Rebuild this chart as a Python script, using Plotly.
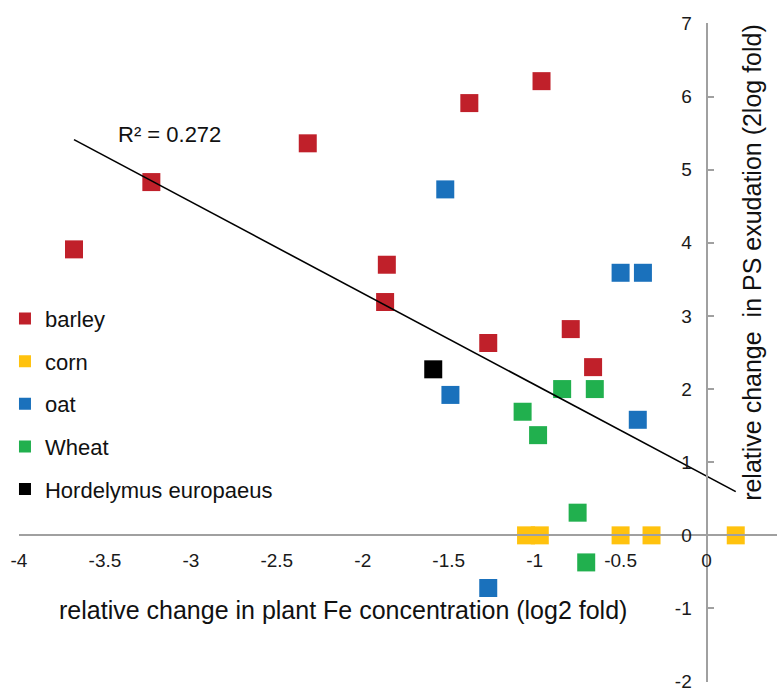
import plotly.graph_objects as go

# Relative change in plant Fe concentration (x, log2 fold) versus
# relative change in phytosiderophore (PS) exudation (y, 2log fold)
barley_x = [-3.68, -3.23, -2.32, -1.38, -0.96, -1.86, -1.87, -1.27, -0.79, -0.66]
barley_y = [3.91, 4.83, 5.36, 5.91, 6.21, 3.70, 3.19, 2.63, 2.82, 2.30]

corn_x = [-1.05, -0.97, -0.50, -0.32, 0.17]
corn_y = [0.0, 0.0, 0.0, 0.0, 0.0]

oat_x = [-1.52, -0.50, -0.37, -1.49, -0.40, -1.27]
oat_y = [4.73, 3.59, 3.59, 1.92, 1.58, -0.72]

wheat_x = [-0.84, -0.65, -1.07, -0.98, -0.75, -0.70]
wheat_y = [2.00, 2.00, 1.69, 1.37, 0.31, -0.37]

hordelymus_x = [-1.59]
hordelymus_y = [2.27]

# Linear trendline over all points (y = slope * x + intercept)
trend_slope = -1.25
trend_intercept = 0.81
r2_label = "R² = 0.272"

x_tick_vals = [-4, -3.5, -3, -2.5, -2, -1.5, -1, -0.5, 0]
x_tick_text = ["-4", "-3.5", "-3", "-2.5", "-2", "-1.5", "-1", "-0.5", "0"]
y_tick_vals = [-2, -1, 0, 1, 2, 3, 4, 5, 6, 7]
y_tick_text = ["-2", "-1", "0", "1", "2", "3", "4", "5", "6", "7"]

FONT = "Liberation Sans, Arial, sans-serif"
AXIS_GREY = "#a0a0a0"
X_RANGE = [-4, 0.41]
Y_RANGE = [-2.005, 7.005]

series = [
    ("barley", barley_x, barley_y, "#C0202A"),
    ("corn", corn_x, corn_y, "#FFC20E"),
    ("oat", oat_x, oat_y, "#1A71BC"),
    ("Wheat", wheat_x, wheat_y, "#21B04E"),
    ("Hordelymus europaeus", hordelymus_x, hordelymus_y, "#000000"),
]

fig = go.Figure()
for name, xs, ys, color in series:
    fig.add_trace(go.Scatter(
        x=xs, y=ys, mode="markers", name=name, legendgroup=name,
        marker=dict(symbol="square", size=18, color=color, line=dict(width=0)),
    ))

all_x = [v for s in series for v in s[1]]
line_x = [min(all_x), max(all_x)]
line_y = [trend_slope * v + trend_intercept for v in line_x]
fig.add_trace(go.Scatter(
    x=line_x, y=line_y, mode="lines",
    line=dict(color="#000000", width=1.6), showlegend=False, hoverinfo="skip",
))

fig.update_layout(
    width=777, height=692,
    margin=dict(l=19, r=0, t=23, b=7),
    paper_bgcolor="white", plot_bgcolor="white",
    font=dict(family=FONT, color="#1a1a1a"),
    showlegend=True,
    legend=dict(
        x=-0.0185, y=0.583, xanchor="left", yanchor="top",
        font=dict(size=22, family=FONT, color="#111111"),
        itemsizing="constant", tracegroupgap=11,
        bgcolor="rgba(0,0,0,0)",
    ),
    xaxis=dict(
        range=X_RANGE, anchor="free", position=(0 - Y_RANGE[0]) / (Y_RANGE[1] - Y_RANGE[0]),
        showgrid=False, zeroline=False, showline=True,
        linecolor=AXIS_GREY, linewidth=2, ticks="",
        tickvals=x_tick_vals, ticktext=x_tick_text,
        tickfont=dict(size=19, family=FONT, color="#1a1a1a"),
        ticklabelstandoff=8, ticklabeloverflow="allow",
    ),
    yaxis=dict(
        range=Y_RANGE, anchor="free", position=(0 - X_RANGE[0]) / (X_RANGE[1] - X_RANGE[0]),
        side="left", showgrid=False, zeroline=False, showline=True,
        linecolor=AXIS_GREY, linewidth=2,
        ticks="inside", ticklen=6, tickwidth=1.5, tickcolor=AXIS_GREY,
        tickvals=y_tick_vals, ticktext=y_tick_text,
        tickfont=dict(size=19, family=FONT, color="#1a1a1a"),
        ticklabelstandoff=10, ticklabeloverflow="allow",
    ),
    annotations=[
        dict(text=r2_label, x=-3.436, y=5.48, xref="x", yref="y",
             xanchor="left", yanchor="middle", showarrow=False,
             font=dict(size=22, family=FONT, color="#111111")),
        dict(text="relative change in plant Fe concentration (log2 fold)",
             x=0.4274, y=0.1088, xref="paper", yref="paper",
             xanchor="center", yanchor="middle", showarrow=False,
             font=dict(size=25, family=FONT, color="#111111")),
        dict(text="relative change  in PS exudation (2log fold)",
             x=0.967, y=0.6375, xref="paper", yref="paper", textangle=-90,
             xanchor="center", yanchor="middle", showarrow=False,
             font=dict(size=25, family=FONT, color="#111111")),
    ],
)

fig.write_html("out.html")
